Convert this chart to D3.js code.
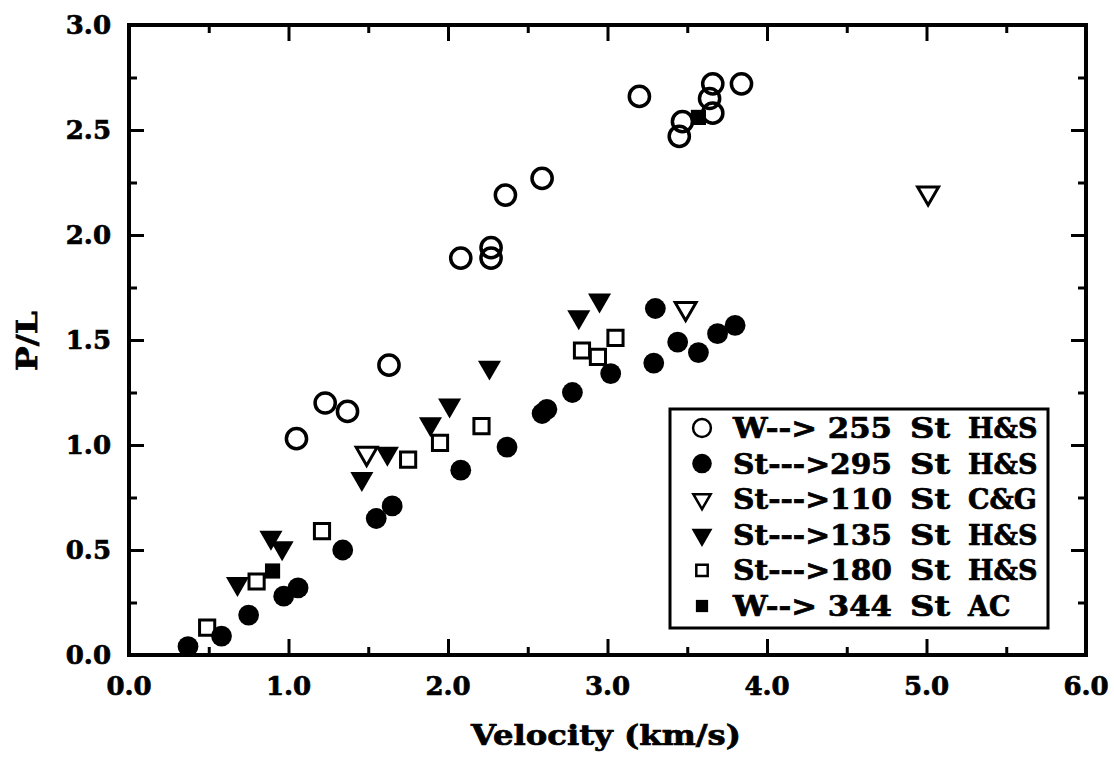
<!DOCTYPE html>
<html>
<head>
<meta charset="utf-8">
<script src="https://cdn.jsdelivr.net/npm/d3@7"></script>
<style>
	body { margin: 0; background: #fff; }
	text { font-family: "DejaVu Serif", serif; font-weight: bold; fill: #000; stroke: #000; stroke-width: 0.7px; }
</style>
</head>
<body>
<div id="svg-container"></div>
<script>
// series: [velocity km/s, P/L]
var w_255 = [[1.05,1.03],[1.23,1.20],[1.37,1.16],[1.63,1.38],[2.08,1.89],[2.27,1.94],[2.27,1.89],[2.36,2.19],[2.59,2.27],[3.20,2.66],[3.45,2.47],[3.47,2.54],[3.66,2.72],[3.64,2.65],[3.66,2.58],[3.84,2.72]];
var st_295 = [[0.37,0.04],[0.58,0.09],[0.75,0.19],[0.97,0.28],[1.06,0.32],[1.34,0.50],[1.55,0.65],[1.65,0.71],[2.08,0.88],[2.37,0.99],[2.59,1.15],[2.62,1.17],[2.78,1.25],[3.02,1.34],[3.29,1.39],[3.30,1.65],[3.44,1.49],[3.57,1.44],[3.69,1.53],[3.80,1.57]];
var st_110 = [[1.49,0.96],[3.49,1.65],[5.01,2.20]];
var st_135 = [[0.68,0.34],[0.89,0.56],[0.96,0.51],[1.46,0.84],[1.62,0.96],[1.89,1.10],[2.01,1.19],[2.26,1.37],[2.82,1.61],[2.95,1.69]];
var st_180 = [[0.49,0.13],[0.80,0.35],[1.21,0.59],[1.75,0.93],[1.95,1.01],[2.21,1.09],[2.84,1.45],[2.94,1.42],[3.05,1.51]];
var w_344 = [[0.90,0.40],[3.57,2.56]];

var x_ticks = [0, 1, 2, 3, 4, 5, 6];
var y_ticks = [0, 0.5, 1, 1.5, 2, 2.5, 3];

var legend_a = ["W--> 255", "St--->295", "St--->110", "St--->135", "St--->180", "W--> 344"];
var legend_b = ["St", "St", "St", "St", "St", "St"];
var legend_c = ["H&S", "H&S", "C&G", "H&S", "H&S", "AC"];

var W = 1114, H = 759;
var m = {left: 129, right: 28, top: 25, bottom: 104};

var svg = d3.select("#svg-container").append("svg")
	.attr("width", W)
	.attr("height", H);

var x = d3.scaleLinear().domain([0, 6]).range([m.left, W - m.right]);
var y = d3.scaleLinear().domain([0, 3]).range([H - m.bottom, m.top]);

// ticks, inward on all four sides
var x_minor = d3.range(0.5, 6, 1);
var y_minor = d3.range(0.25, 3, 0.5);

function tick_axis (axis, ticks, len) {
	return axis.tickValues(ticks).tickSize(len).tickFormat("");
}

var ax = svg.append("g").attr("class", "axes");

ax.append("g").attr("transform", "translate(0," + y(0) + ")")
	.call(tick_axis(d3.axisTop(x), x_ticks.slice(1, -1), 16));
ax.append("g").attr("transform", "translate(0," + y(0) + ")")
	.call(tick_axis(d3.axisTop(x), x_minor, 8));
ax.append("g").attr("transform", "translate(0," + y(3) + ")")
	.call(tick_axis(d3.axisBottom(x), x_ticks.slice(1, -1), 16));
ax.append("g").attr("transform", "translate(0," + y(3) + ")")
	.call(tick_axis(d3.axisBottom(x), x_minor, 8));
ax.append("g").attr("transform", "translate(" + x(0) + ",0)")
	.call(tick_axis(d3.axisRight(y), y_ticks.slice(1, -1), 15));
ax.append("g").attr("transform", "translate(" + x(0) + ",0)")
	.call(tick_axis(d3.axisRight(y), y_minor, 8));
ax.append("g").attr("transform", "translate(" + x(6) + ",0)")
	.call(tick_axis(d3.axisLeft(y), y_ticks.slice(1, -1), 15));
ax.append("g").attr("transform", "translate(" + x(6) + ",0)")
	.call(tick_axis(d3.axisLeft(y), y_minor, 8));

ax.selectAll(".domain").remove();
ax.selectAll(".tick line").attr("stroke", "#000").attr("stroke-width", 3);

svg.append("rect")
	.attr("x", x(0))
	.attr("y", y(3))
	.attr("width", x(6) - x(0))
	.attr("height", y(0) - y(3))
	.attr("fill", "none")
	.attr("stroke", "#000")
	.attr("stroke-width", 4);

// tick labels
svg.append("g").selectAll("text")
	.data(x_ticks)
	.enter()
	.append("text")
	.attr("x", function (d) { return x(d); })
	.attr("y", y(0) + 40)
	.attr("text-anchor", "middle")
	.style("font-size", "26px")
	.text(function (d) { return d3.format(".1f")(d); });

svg.append("g").selectAll("text")
	.data(y_ticks)
	.enter()
	.append("text")
	.attr("x", x(0) - 18)
	.attr("y", function (d) { return y(d) + 9; })
	.attr("text-anchor", "end")
	.style("font-size", "26px")
	.text(function (d) { return d3.format(".1f")(d); });

svg.append("text")
	.attr("x", 471)
	.attr("y", 745)
	.attr("textLength", 270)
	.attr("lengthAdjust", "spacingAndGlyphs")
	.style("font-size", "28px")
	.text("Velocity (km/s)");

svg.append("text")
	.attr("transform", "translate(37," + 341 + ") rotate(-90)")
	.attr("text-anchor", "middle")
	.attr("textLength", 60)
	.attr("lengthAdjust", "spacingAndGlyphs")
	.style("font-size", "28px")
	.text("P/L");

// markers
var down = "rotate(180)";
var styles = [
	{data: w_255, type: d3.symbolCircle, size: 320, fill: "none", sw: 3.5, rot: "", lsize: 250},
	{data: st_295, type: d3.symbolCircle, size: 340, fill: "#000", sw: 0, rot: "", lsize: 300},
	{data: st_110, type: d3.symbolTriangle, size: 190, fill: "none", sw: 3, rot: down, lsize: 130},
	{data: st_135, type: d3.symbolTriangle, size: 230, fill: "#000", sw: 0, rot: down, lsize: 190},
	{data: st_180, type: d3.symbolSquare, size: 230, fill: "none", sw: 3, rot: "", lsize: 130},
	{data: w_344, type: d3.symbolSquare, size: 230, fill: "#000", sw: 0, rot: "", lsize: 150}
];

var marks = svg.append("g");
styles.forEach(function (s) {
	marks.append("g").selectAll("path")
		.data(s.data)
		.enter()
		.append("path")
		.attr("transform", function (d) {
			return "translate(" + x(d[0]) + "," + y(d[1]) + ")" + s.rot;
		})
		.attr("d", d3.symbol().type(s.type).size(s.size))
		.attr("fill", s.fill)
		.attr("stroke", "#000")
		.attr("stroke-width", s.sw);
});

// legend
var lg = svg.append("g").attr("transform", "translate(670,409)");
lg.append("rect")
	.attr("width", 378)
	.attr("height", 219)
	.attr("fill", "#fff")
	.attr("stroke", "#000")
	.attr("stroke-width", 3);

var rows = lg.selectAll(".row")
	.data(styles)
	.enter()
	.append("g")
	.attr("class", "row")
	.attr("transform", function (d, i) { return "translate(0," + (19 + i * 35.6) + ")"; });

rows.append("path")
	.attr("transform", function (d) { return "translate(32,0)" + d.rot; })
	.attr("d", function (d) { return d3.symbol().type(d.type).size(d.lsize)(); })
	.attr("fill", function (d) { return d.fill; })
	.attr("stroke", "#000")
	.attr("stroke-width", function (d) { return d.sw ? 2.5 : 0; });

rows.append("text")
	.attr("x", 63).attr("y", 10)
	.attr("textLength", 159)
	.attr("lengthAdjust", "spacingAndGlyphs")
	.style("font-size", "27px")
	.text(function (d, i) { return legend_a[i]; });
rows.append("text")
	.attr("x", 240).attr("y", 10)
	.attr("textLength", 40)
	.attr("lengthAdjust", "spacingAndGlyphs")
	.style("font-size", "27px")
	.text(function (d, i) { return legend_b[i]; });
rows.append("text")
	.attr("x", 298).attr("y", 10)
	.style("font-size", "27px")
	.text(function (d, i) { return legend_c[i]; });
</script>
</body>
</html>
